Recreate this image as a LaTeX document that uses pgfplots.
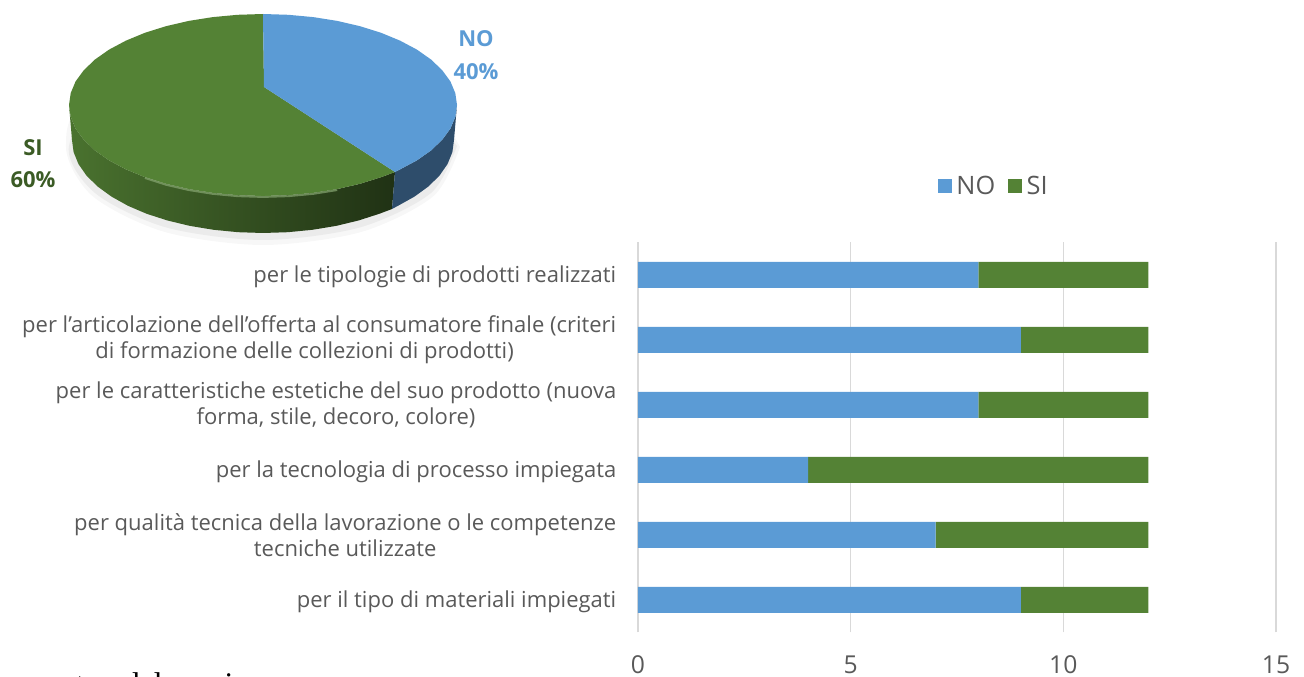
\documentclass[border=0pt]{standalone}
\usepackage{pgfplots}
\pgfplotsset{compat=1.18}
\usepackage{fontspec}
\setmainfont{Open Sans}
\newfontfamily\serifpart{Liberation Serif}
\definecolor{cblue}{HTML}{5B9BD5}
\definecolor{cgreen}{HTML}{548235}
\definecolor{ctext}{HTML}{595959}
\definecolor{cgrid}{HTML}{D9D9D9}
\begin{document}
\begin{tikzpicture}
\path[use as bounding box] (0,0) rectangle (978pt,507.75pt);
% pie, canvas coordinates = reference pixels
\begin{axis}[at={(0,0)},anchor=south west,scale only axis,width=978pt,height=507.75pt,
  hide axis,xmin=0,xmax=1304,ymin=0,ymax=677,y dir=reverse,clip=false]
% shadow
\addplot[smooth,draw=none,fill=black!3,forget plot] coordinates {(460,147)(433.6,196)(361.5,231.9)(263,245)(164.5,231.9)(92.4,196)(66,147)(92.4,98)(263,49)(433.6,98)} --cycle;
\addplot[smooth,draw=none,fill=black!8,forget plot] coordinates {(457,146)(431,193)(360,227.4)(263,240)(166,227.4)(95,193)(69,146)(114,86)(263,52)(412,86)} --cycle;
% green side
\addplot[draw=none,left color=cgreen!88!black,right color=cgreen!38!black,forget plot] coordinates {(69,105)(72,140)(73.6,152.1)(78.5,164.1)(86.5,175.6)(97.6,186.5)(111.5,196.6)(128,205.8)(146.7,213.8)(167.5,220.5)(189.9,225.9)(213.6,229.8)(238.1,232.2)(263,233)(287.9,232.2)(312.4,229.8)(336.1,225.9)(358.5,220.5)(379.3,213.8)(392,209)(395,172)(381.1,177.2)(360,183.8)(337.2,189.1)(313.2,192.9)(288.3,195.2)(263,196)(237.7,195.2)(212.8,192.9)(188.8,189.1)(166,183.8)(144.9,177.2)(125.8,169.3)(109.1,160.4)(95,150.5)(83.8,139.8)(75.6,128.6)(70.7,116.9)} --cycle;
% blue side
\addplot[draw=none,left color=cblue!50!black,right color=cblue!50!black,forget plot] coordinates {(395,172)(392,209)(398,205.8)(414.5,196.6)(428.4,186.5)(439.5,175.6)(447.5,164.1)(452.4,152.1)(454,140)(457,105)(455.3,116.9)(450.4,128.6)(442.2,139.8)(431,150.5)(416.9,160.4)(400.2,169.3)} --cycle;
% green top
\addplot[draw=none,fill=cgreen,forget plot] coordinates {(264,87)(395,172)(381.1,177.2)(360,183.8)(337.2,189.1)(313.2,192.9)(288.3,195.2)(263,196)(237.7,195.2)(212.8,192.9)(188.8,189.1)(166,183.8)(144.9,177.2)(125.8,169.3)(109.1,160.4)(95,150.5)(83.8,139.8)(75.6,128.6)(70.7,116.9)(69,105)(70.7,93.1)(75.6,81.4)(83.8,70.2)(95,59.5)(109.1,49.6)(125.8,40.7)(144.9,32.8)(166,26.2)(188.8,20.9)(212.8,17.1)(237.7,14.8)(263,14)} --cycle;
% blue top
\addplot[draw=none,fill=cblue,forget plot] coordinates {(264,87)(263,14)(288.3,14.8)(313.2,17.1)(337.2,20.9)(360,26.2)(381.1,32.8)(400.2,40.7)(416.9,49.6)(431,59.5)(442.2,70.2)(450.4,81.4)(455.3,93.1)(457,105)(455.3,116.9)(450.4,128.6)(442.2,139.8)(431,150.5)(416.9,160.4)(400.2,169.3)(395,172)} --cycle;
% rim highlight
\addplot[line width=1.4pt,color=cgreen!70!white,opacity=.7,forget plot] coordinates {(144.9,178)(166,184.8)(188.8,190.1)(212.8,193.9)(237.7,196.2)(263,197)(288.3,196.2)(313.2,193.9)(337.2,190.1)};
\node[font=\fontsize{16.5pt}{25pt}\selectfont\bfseries,text=cblue,align=center] at (axis cs:476,55) {NO\\40\%};
\node[font=\fontsize{16.5pt}{24pt}\selectfont\bfseries,text=cgreen!70!black,align=center] at (axis cs:33,164) {SI\\60\%};
\node[font=\serifpart\fontsize{23.6pt}{28pt}\selectfont,text=black,anchor=base west,inner sep=0pt] at (axis cs:30,694) {conto\hspace*{.76em}del comico};
\end{axis}
% stacked bars
\begin{axis}[at={(478.5pt,33.4pt)},anchor=south west,scale only axis,width=478.5pt,height=292.5pt,
  xbar stacked,bar width=19.5pt,xmin=0,xmax=15,ymin=-0.5,ymax=5.5,
  xtick={0,5,10,15},ytick={0,1,2,3,4,5},
  yticklabels={{\rule{0pt}{15.5pt}per il tipo di materiali impiegati},
    {per qualità tecnica della lavorazione o le competenze\\tecniche utilizzate},
    {\rule{0pt}{15.5pt}per la tecnologia di processo impiegata},
    {per le caratteristiche estetiche del suo prodotto (nuova\\forma, stile, decoro, colore)},
    {per l’articolazione dell’offerta al consumatore finale (criteri\\di formazione delle collezioni di prodotti)\hspace*{22pt}},
    {\rule{0pt}{15.5pt}per le tipologie di prodotti realizzati}},
  yticklabel style={align=center,font=\fontsize{16.5pt}{19.5pt}\selectfont,text=ctext,xshift=-12.75pt},
  xticklabel style={font=\fontsize{18.5pt}{22pt}\selectfont,text=ctext,yshift=-14pt},
  /pgf/number format/assume math mode=true,
  xmajorgrids,grid style={cgrid,line width=0.9pt},
  axis line style={draw=none},major tick style={draw=none},
  legend style={at={(0.558,1.145)},anchor=center,draw=none,fill=none,legend columns=2,
    font=\fontsize{19pt}{22pt}\selectfont,text=ctext,/tikz/every even column/.style={column sep=7.5pt}},
  legend image code/.code={\fill[#1,draw=none] (0pt,-5.25pt) rectangle (10.5pt,5.25pt);\path (12pt,0pt);},
]
\addplot[draw=none,fill=cblue] coordinates {(9,0)(7,1)(4,2)(8,3)(9,4)(8,5)};
\addplot[draw=none,fill=cgreen] coordinates {(3,0)(5,1)(8,2)(4,3)(3,4)(4,5)};
\legend{NO,SI}
\end{axis}
\end{tikzpicture}
\end{document}
